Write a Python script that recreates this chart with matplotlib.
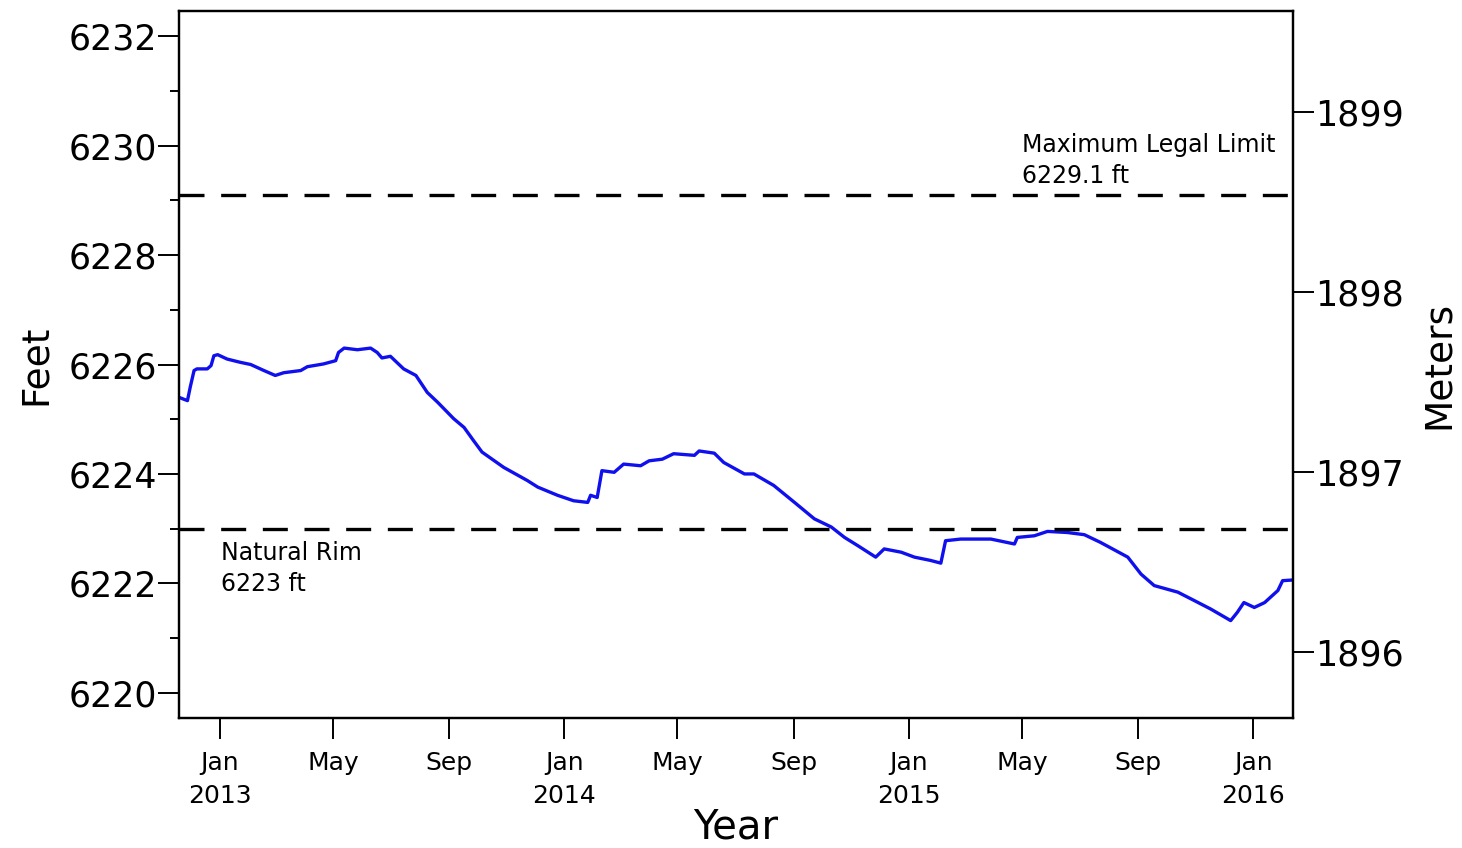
import matplotlib
matplotlib.use("Agg")
import matplotlib.pyplot as plt
import matplotlib.dates as mdates
import matplotlib.ticker as mticker
import numpy as np
import pandas as pd

# lake level readings (feet)
day_offsets = [-43, -34, -31, -27, -24, -13, -9, -6, -2, 8, 22, 33, 47, 59, 68, 86, 93, 110,
               123, 126, 132, 146, 160, 167, 172, 181, 195, 208, 220, 231, 248, 259, 269, 278,
               301, 326, 337, 358, 375, 390, 393, 400, 405, 418, 428, 446, 455, 469, 481, 503,
               508, 524, 534, 556, 566, 587, 609, 630, 648, 662, 676, 695, 704, 722, 736, 753,
               764, 769, 785, 803, 817, 842, 845, 863, 877, 898, 916, 933, 962, 976, 990, 1015,
               1032, 1050, 1071, 1078, 1085, 1096, 1107, 1121, 1126, 1135]
level_ft = [6225.40, 6225.34, 6225.59, 6225.89, 6225.92, 6225.92, 6225.98, 6226.16, 6226.18,
            6226.10, 6226.04, 6226.00, 6225.89, 6225.80, 6225.85, 6225.89, 6225.96, 6226.01,
            6226.07, 6226.22, 6226.30, 6226.27, 6226.30, 6226.22, 6226.12, 6226.15, 6225.92,
            6225.80, 6225.49, 6225.31, 6225.01, 6224.85, 6224.61, 6224.40, 6224.12, 6223.88,
            6223.76, 6223.61, 6223.51, 6223.48, 6223.61, 6223.57, 6224.06, 6224.03, 6224.18,
            6224.15, 6224.24, 6224.27, 6224.37, 6224.34, 6224.42, 6224.38, 6224.21, 6224.00,
            6224.00, 6223.79, 6223.48, 6223.18, 6223.03, 6222.84, 6222.69, 6222.48, 6222.63,
            6222.57, 6222.48, 6222.42, 6222.37, 6222.78, 6222.81, 6222.81, 6222.81, 6222.72,
            6222.84, 6222.87, 6222.95, 6222.93, 6222.89, 6222.75, 6222.48, 6222.17, 6221.96,
            6221.84, 6221.69, 6221.53, 6221.32, 6221.47, 6221.65, 6221.56, 6221.65, 6221.87,
            6222.05, 6222.06]

max_legal = 6229.1
natural_rim = 6223.0

dates = pd.Timestamp("2013-01-01") + pd.to_timedelta(day_offsets, unit="D")

plt.rcParams['font.family'] = ['DejaVu Sans']

fig = plt.figure(figsize=(14.62, 8.48), dpi=100)
ax = fig.add_axes([0.1224, 0.1533, 0.7620, 0.8337])

ax.plot(dates, level_ft, color="#1010ee", linewidth=2.4)
ax.axhline(max_legal, color="black", linewidth=2.4, linestyle=(0, (7.5, 5)))
ax.axhline(natural_rim, color="black", linewidth=2.4, linestyle=(0, (7.5, 5)))

ax.text(pd.Timestamp("2015-05-01"), max_legal + 0.12, "Maximum Legal Limit\n6229.1 ft",
        fontsize=17, va="bottom", ha="left", linespacing=1.4)
ax.text(pd.Timestamp("2013-01-03"), natural_rim - 0.22, "Natural Rim\n6223 ft",
        fontsize=17, va="top", ha="left", linespacing=1.4)

ax.set_xlim(pd.Timestamp("2012-11-19"), pd.Timestamp("2016-02-12"))
ax.set_ylim(6219.54, 6232.46)
ax.set_yticks([6220, 6222, 6224, 6226, 6228, 6230, 6232])
ax.yaxis.set_minor_locator(mticker.FixedLocator([6221, 6223, 6225, 6227, 6229, 6231]))

ax.xaxis.set_major_locator(mdates.MonthLocator(bymonth=[1, 5, 9]))

def fmt_date(x, pos):
    d = mdates.num2date(x)
    if d.month == 1:
        return d.strftime("%b\n%Y")
    return d.strftime("%b")

ax.xaxis.set_major_formatter(mticker.FuncFormatter(fmt_date))

for s in ax.spines.values():
    s.set_linewidth(1.6)

ax.tick_params(axis="y", which="major", length=15, width=1.4, labelsize=25, pad=1)
ax.tick_params(axis="y", which="minor", length=6.5, width=1.4)
ax.tick_params(axis="x", which="major", length=15, width=1.4, labelsize=18, pad=9)

ax.set_ylabel("Feet", fontsize=27, labelpad=10)
ax.set_xlabel("Year", fontsize=29, labelpad=0)

# meters axis on the right
ax2 = ax.twinx()
ax2.set_ylim(1895.633, 1899.561)
ax2.set_yticks([1896, 1897, 1898, 1899])
ax2.tick_params(axis="y", length=15, width=1.4, labelsize=25, pad=1)
ax2.set_ylabel("Meters", fontsize=27, labelpad=12)
for s in ax2.spines.values():
    s.set_linewidth(1.6)

fig.canvas.draw()
for lbl in ax.get_xticklabels():
    lbl.set_linespacing(1.45)

fig.savefig("out.png", dpi=100, facecolor="white")
